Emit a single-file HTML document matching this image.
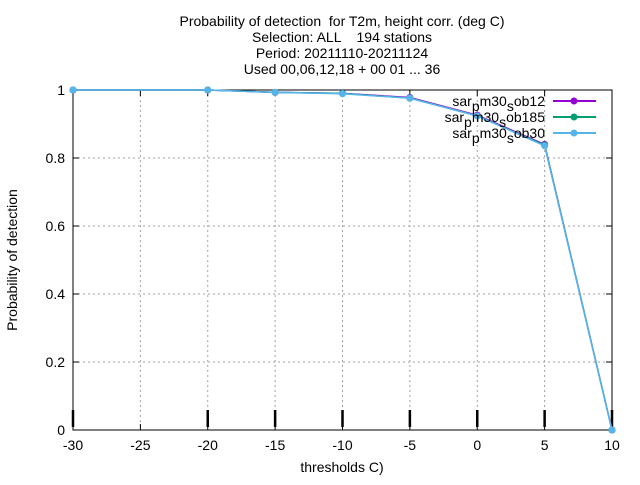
<!DOCTYPE html>
<html><head><meta charset="utf-8"><style>
body{margin:0;background:#fff}
text{font-family:"Liberation Sans",sans-serif;font-size:14px;fill:#000}
.pre{white-space:pre}
</style></head><body>
<svg id="c" width="640" height="480" xmlns="http://www.w3.org/2000/svg">
<g text-anchor="middle">
<text class="pre" x="342" y="26">Probability of detection  for T2m, height corr. (deg C)</text>
<text class="pre" x="342" y="42">Selection: ALL    194 stations</text>
<text class="pre" x="342" y="58">Period: 20211110-20211124</text>
<text class="pre" x="342" y="74">Used 00,06,12,18 + 00 01 ... 36</text>
</g>
<g id="grid"></g>
<g id="axes"></g>
<g id="series"></g>
<text transform="translate(17,260) rotate(-90)" text-anchor="middle">Probability of detection</text>
<text x="342" y="472" text-anchor="middle">thresholds C)</text>
<g id="legend"></g>
</svg>
<script>
const thresholds=[-30,-20,-15,-10,-5,0,5,10];
const ob12=[1,1,0.993,0.99,0.978,0.926,0.84,0];
const ob185=[1,1,0.993,0.99,0.976,0.924,0.838,0];
const ob30=[1,1,0.993,0.989,0.976,0.924,0.836,0];
const xTicks=[-30,-25,-20,-15,-10,-5,0,5,10];
const yTicks=[0,0.2,0.4,0.6,0.8,1];
const yLabels=["0","0.2","0.4","0.6","0.8","1"];
const names=["sar_p m30_s ob12","sar_p m30_s ob185","sar_p m30_s ob30"];
const colors=["#9400d3","#009e73","#56b4e9"];
const L=73,R=612,T=90,B=430;
const sx=v=>L+(v+30)/40*(R-L), sy=v=>B-v*(B-T);
const NS="http://www.w3.org/2000/svg";
function mk(p,tag,at){const e=document.createElementNS(NS,tag);for(const k in at)e.setAttribute(k,at[k]);p.appendChild(e);return e;}
const grid=document.getElementById('grid'),axes=document.getElementById('axes'),ser=document.getElementById('series'),leg=document.getElementById('legend');
xTicks.forEach(v=>{const x=sx(v);
 const g=mk(grid,'line',{x1:x,x2:x,y1:T,y2:B,stroke:'#a0a0a0','stroke-dasharray':'2,3','stroke-width':1});
 
 mk(axes,'line',{x1:x,x2:x,y1:B,y2:B-6,stroke:'#000'});mk(axes,'line',{x1:x,x2:x,y1:T,y2:T+6,stroke:'#000'});
 const t=mk(axes,'text',{x:x,y:B+20,'text-anchor':'middle'});t.textContent=v;
 });
yTicks.forEach((v,i)=>{const y=sy(v);
 const g=mk(grid,'line',{x1:L,x2:R,y1:y,y2:y,stroke:'#a0a0a0','stroke-dasharray':'2,3','stroke-width':1});
 
 mk(axes,'line',{x1:L,x2:L+6,y1:y,y2:y,stroke:'#000'});mk(axes,'line',{x1:R,x2:R-6,y1:y,y2:y,stroke:'#000'});
 const t=mk(axes,'text',{x:L-8,y:y+5,'text-anchor':'end'});t.textContent=yLabels[i];
 });
mk(axes,'rect',{x:L,y:T,width:R-L,height:B-T,fill:'none',stroke:'#000'});
thresholds.forEach(v=>{const x=sx(v);
 const m=mk(axes,'line',{x1:x,x2:x,y1:B-20,y2:B-3,stroke:'#000','stroke-width':2.5});
 });
[ob12,ob185,ob30].forEach((d,i)=>{
 const p=mk(ser,'polyline',{points:d.map((v,j)=>sx(thresholds[j])+','+sy(v)).join(' '),fill:'none',stroke:colors[i],'stroke-width':1.5});
 
 d.forEach((v,j)=>{const c=mk(ser,'circle',{cx:sx(thresholds[j]),cy:sy(v),r:3.5,fill:colors[i]});
  });});
names.forEach((n,i)=>{const y=101+i*16;const parts=n.split(' ');
 const t=mk(leg,'text',{x:545,y:y+5,'text-anchor':'end','font-size':15});
 
 t.innerHTML='sar<tspan dy="5">p</tspan><tspan dy="-5">m30</tspan><tspan dy="5">s</tspan><tspan dy="-5">'+parts[2]+'</tspan>';
 const l=mk(leg,'line',{x1:553,x2:596,y1:y,y2:y,stroke:colors[i],'stroke-width':2});
 
 mk(leg,'circle',{cx:574,cy:y,r:3.5,fill:colors[i]});});
</script>
</body></html>
